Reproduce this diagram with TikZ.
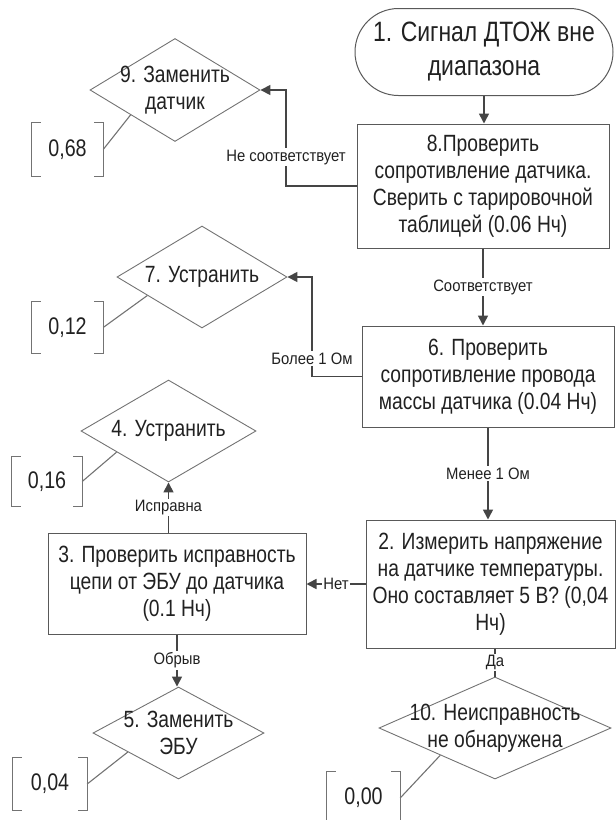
\documentclass[tikz,border=0pt]{standalone}
\usepackage{fontspec}
\setmainfont{Liberation Sans}[FakeStretch=0.82]
\newfontfamily\labfont{Liberation Sans}[FakeStretch=0.9]
\usepackage{tikz}
\usetikzlibrary{shapes.geometric,shapes.misc,arrows.meta,calc}
\definecolor{linecol}{rgb}{0.27,0.27,0.27}
\definecolor{boxcol}{rgb}{0.35,0.35,0.35}
\definecolor{diacol}{rgb}{0.45,0.45,0.45}
\definecolor{txtcol}{rgb}{0.13,0.13,0.13}

\begin{document}
\begin{tikzpicture}[x=1pt, y=1pt,
%    node distance = 2 cm,auto,
    block/.style  = {draw=boxcol, line width=1pt, rectangle, align=center, inner sep=0pt, text=txtcol, font=\fontsize{23.5}{27}\selectfont},
    term/.style   = {draw=boxcol, line width=1pt, rounded rectangle, align=center, inner sep=0pt, text=txtcol, font=\fontsize{28}{34}\selectfont},
    decision/.style = {draw=diacol, line width=0.9pt, diamond, inner sep=0pt},
    dtext/.style  = {align=center, text=txtcol, font=\fontsize{23.5}{27}\selectfont},
    note/.style   = {inner sep=0pt, text=txtcol, font=\fontsize{24}{28}\selectfont},
    brk/.style    = {draw=diacol, line width=1.1pt},
    lbl/.style    = {fill=white, inner sep=1.5pt, text=txtcol, font=\labfont\fontsize{16.5}{18}\selectfont},
    arr/.style    = {draw=linecol, line width=1.6pt, -{Triangle[length=10pt,width=10pt]}},
    plain/.style  = {draw=linecol, line width=1.6pt}]

  \useasboundingbox (0,0) rectangle (616,-820);

  % blocks
  \draw (484,-52) node[term, minimum width=258, minimum height=87] (start) {1. Сигнал ДТОЖ вне\\диапазона};
  \draw (483,-186) node[block, minimum width=252, minimum height=124] (chk8) {8.Проверить\\сопротивление датчика.\\Сверить с тарировочной\\таблицей (0.06 Нч)};
  \draw (488,-376.5) node[block, minimum width=252, minimum height=101] (chk6) {6. Проверить\\сопротивление провода\\массы датчика (0.04 Нч)};
  \draw (490.5,-584) node[block, minimum width=249, minimum height=128] (meas2) {2. Измерить напряжение\\на датчике температуры.\\Оно составляет 5 В? (0,04\\Нч)};
  \draw (177,-583.5) node[block, minimum width=258, minimum height=101] (chk3) {3. Проверить исправность\\цепи от ЭБУ до датчика\\(0.1 Нч)};

  % decisions
  \draw (175,-90) node[decision, minimum width=170, minimum height=103, label={[dtext]center:9. Заменить\\датчик}] (rep9) {};
  \draw (202,-277) node[decision, minimum width=170, minimum height=102, label={[dtext]center:7. Устранить}] (rep7) {};
  \draw (168.5,-431) node[decision, minimum width=175, minimum height=102, label={[dtext]center:4. Устранить}] (rep4) {};
  \draw (178.5,-733) node[decision, minimum width=171, minimum height=92, label={[dtext]center:5. Заменить\\ЭБУ}] (rep5) {};
  \draw (495,-728) node[decision, minimum width=232, minimum height=102, label={[dtext]center:10. Неисправность\\не обнаружена}] (ok10) {};

  % costs
  \draw (67.5,-149.5) node[note, minimum width=71, minimum height=53] (ann68) {0,68};
  \draw (67.5,-327.5) node[note, minimum width=71, minimum height=51] (ann12) {0,12};
  \draw (47,-481.5) node[note, minimum width=70, minimum height=49] (ann16) {0,16};
  \draw (50,-784) node[note, minimum width=74, minimum height=52] (ann04) {0,04};
  \draw (363.5,-798) node[note, minimum width=73, minimum height=52] (ann00) {0,00};
  \foreach \a/\d/\f in {ann68/rep9/0.48, ann12/rep7/0.36, ann16/rep4/0.41, ann04/rep5/0.41, ann00/ok10/0.53} {
    \draw[brk] ([xshift=9pt]\a.north west) -| (\a.south west) -- ++(9,0);
    \draw[brk] ([xshift=-9pt]\a.north east) -| (\a.south east) -- ++(-9,0);
    \draw[brk] (\a.east) -- ($(\d.west)!\f!(\d.south)$);
  }

  % connectors
  \coordinate (bend9) at (286,-186);
  \coordinate (bend7) at (312,-376.5);
  \draw[arr] (start.south) -- (start.south |- chk8.north);
  \draw[arr] (chk8.west) -- (bend9) |- (rep9.east) node[lbl, pos=0.15] {Не соответствует};
  \draw[arr] (chk8.south) -- (chk8.south |- chk6.north) node[lbl, midway] {Соответствует};
  \draw[arr] (chk6.west) -- (bend7) |- (rep7.east) node[lbl, pos=0.09] {Более 1 Ом};
  \draw[arr] (chk6.south) -- (chk6.south |- meas2.north) node[lbl, midway] {Менее 1 Ом};
  \draw[arr] (meas2.west) -- (meas2.west -| chk3.east) node[lbl, midway] {Нет};
  \draw[arr] (rep4.south |- chk3.north) -- (rep4.south) node[lbl, midway] {Исправна};
  \draw[arr] (chk3.south) -- (chk3.south |- rep5.north) node[lbl, midway] {Обрыв};
  \draw[plain] (ok10.north |- meas2.south) -- (ok10.north) node[lbl, midway] {Да};

\end{tikzpicture}
\end{document}
